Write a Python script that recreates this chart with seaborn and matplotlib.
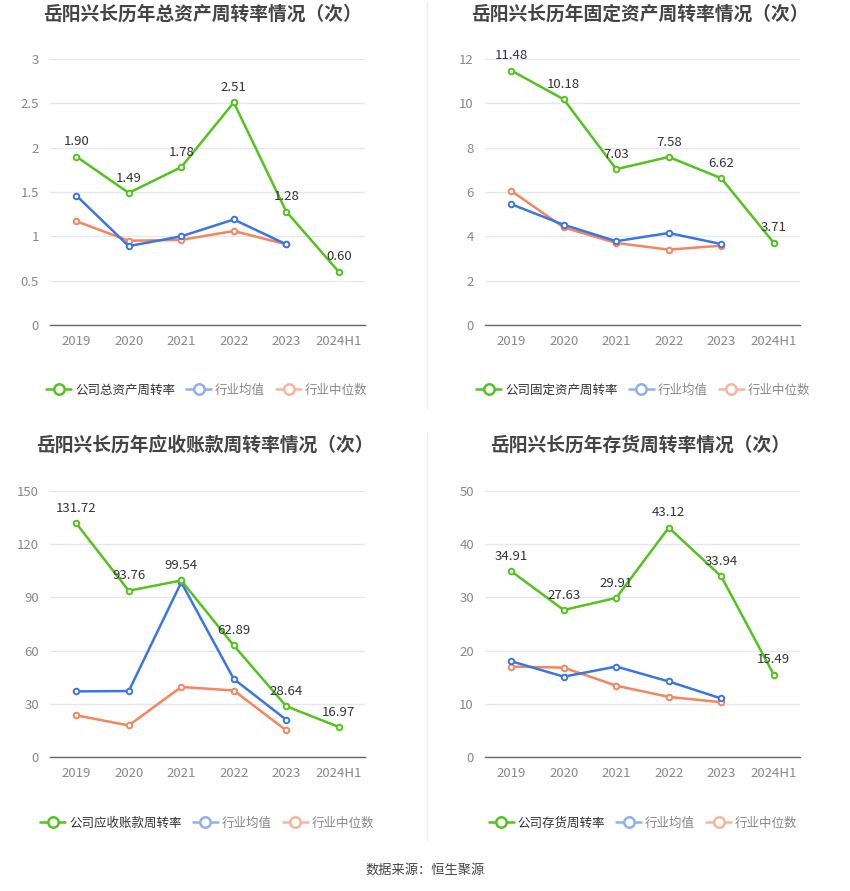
import matplotlib
matplotlib.use("Agg")
import matplotlib.pyplot as plt
from matplotlib.lines import Line2D
import seaborn as sns
import pandas as pd
import numpy as np

years = ["2019", "2020", "2021", "2022", "2023", "2024H1"]

total_company = [1.90, 1.49, 1.78, 2.51, 1.28, 0.60]
total_avg = [1.46, 0.89, 1.00, 1.19, 0.91]
total_median = [1.17, 0.95, 0.96, 1.06, 0.91]

fixed_company = [11.48, 10.18, 7.03, 7.58, 6.62, 3.71]
fixed_avg = [5.45, 4.52, 3.78, 4.15, 3.65]
fixed_median = [6.05, 4.40, 3.70, 3.40, 3.58]

recv_company = [131.72, 93.76, 99.54, 62.89, 28.64, 16.97]
recv_avg = [37.0, 37.2, 98.5, 44.0, 21.0]
recv_median = [23.5, 17.8, 39.5, 37.5, 15.0]

inv_company = [34.91, 27.63, 29.91, 43.12, 33.94, 15.49]
inv_avg = [18.0, 15.1, 17.0, 14.2, 11.0]
inv_median = [17.0, 16.8, 13.4, 11.3, 10.3]

titles = ["岳阳兴长历年总资产周转率情况（次）", "岳阳兴长历年固定资产周转率情况（次）",
          "岳阳兴长历年应收账款周转率情况（次）", "岳阳兴长历年存货周转率情况（次）"]
company_names = ["公司总资产周转率", "公司固定资产周转率", "公司应收账款周转率", "公司存货周转率"]
yticks_list = [[0, 0.5, 1, 1.5, 2, 2.5, 3], [0, 2, 4, 6, 8, 10, 12],
               [0, 30, 60, 90, 120, 150], [0, 10, 20, 30, 40, 50]]
ytick_labels = [["0", "0.5", "1", "1.5", "2", "2.5", "3"], ["0", "2", "4", "6", "8", "10", "12"],
                ["0", "30", "60", "90", "120", "150"], ["0", "10", "20", "30", "40", "50"]]

data = [(total_company, total_avg, total_median), (fixed_company, fixed_avg, fixed_median),
        (recv_company, recv_avg, recv_median), (inv_company, inv_avg, inv_median)]

sns.set_theme(style="white")
plt.rcParams['font.family'] = ['Noto Sans CJK SC', 'DejaVu Sans']

GREEN = "#52c41a"
BLUE = "#3a75e6"
ORANGE = "#f7845a"
GREEN_L = "#52c41a"
BLUE_L = "#8fb0f0"
ORANGE_L = "#f9b59c"

W, H = 850, 891
fig = plt.figure(figsize=(W / 100, H / 100), dpi=100)

# axes boxes in pixels: (left, right, top(y of max tick), bottom(y of 0))
boxes = [(50, 365, 59, 325), (485, 800, 59, 325), (50, 365, 491, 757), (485, 800, 491, 757)]
title_y = [14, 14, 445, 445]
title_x = [202, 640, 205, 640]
legend_y = [390, 390, 823, 823]
legend_x = [207, 643, 207, 643]

for i in range(4):
    l, r, t, b = boxes[i]
    ax = fig.add_axes([l / W, 1 - b / H, (r - l) / W, (b - t) / H])
    comp, avg, med = data[i]
    df_c = pd.DataFrame({"x": np.arange(len(comp)), "y": comp})
    df_a = pd.DataFrame({"x": np.arange(len(avg)), "y": avg})
    df_m = pd.DataFrame({"x": np.arange(len(med)), "y": med})
    mk = dict(marker="o", markersize=4, markerfacecolor="white", markeredgewidth=1.4)
    sns.lineplot(data=df_m, x="x", y="y", ax=ax, color=ORANGE, linewidth=1.8,
                 markeredgecolor=ORANGE, **mk)
    sns.lineplot(data=df_a, x="x", y="y", ax=ax, color=BLUE, linewidth=1.8,
                 markeredgecolor=BLUE, **mk)
    sns.lineplot(data=df_c, x="x", y="y", ax=ax, color=GREEN, linewidth=1.8,
                 markeredgecolor=GREEN, **mk)
    ymax = yticks_list[i][-1]
    for xi, v in enumerate(comp):
        ax.annotate(f"{v:.2f}", (xi, v), xytext=(0, 6), textcoords="offset points",
                    ha="center", va="bottom", fontsize=9.5, color="#333333")
    ax.set_xlim(-0.5, len(years) - 0.5)
    ax.set_ylim(0, ymax)
    ax.set_yticks(yticks_list[i])
    ax.set_yticklabels(ytick_labels[i])
    ax.set_xticks(range(len(years)))
    ax.set_xticklabels(years)
    ax.set_xlabel("")
    ax.set_ylabel("")
    ax.tick_params(axis="y", labelsize=9.5, labelcolor="#888888", length=0, pad=8)
    ax.tick_params(axis="x", labelsize=9.5, labelcolor="#888888", length=4,
                   color="#666666", direction="out", pad=3)
    ax.yaxis.grid(True, color="#e3e7f2", linewidth=0.9)
    ax.xaxis.grid(False)
    for s in ["top", "right", "left"]:
        ax.spines[s].set_visible(False)
    ax.spines["bottom"].set_color("#666666")
    ax.spines["bottom"].set_linewidth(1.0)
    ax.set_axisbelow(True)

    fig.text(title_x[i] / W, 1 - title_y[i] / H, titles[i], ha="center", va="center",
             fontsize=13.5, fontweight="bold", color="#444444")

    handles = [
        Line2D([], [], color=GREEN_L, linewidth=1.8, marker="o", markersize=7.5,
               markerfacecolor="white", markeredgecolor=GREEN_L, markeredgewidth=1.8),
        Line2D([], [], color=BLUE_L, linewidth=1.8, marker="o", markersize=7.5,
               markerfacecolor="white", markeredgecolor=BLUE_L, markeredgewidth=1.8),
        Line2D([], [], color=ORANGE_L, linewidth=1.8, marker="o", markersize=7.5,
               markerfacecolor="white", markeredgecolor=ORANGE_L, markeredgewidth=1.8),
    ]
    leg = fig.legend(handles, [company_names[i], "行业均值", "行业中位数"],
                     loc="center", bbox_to_anchor=(legend_x[i] / W, 1 - legend_y[i] / H),
                     ncol=3, frameon=False, fontsize=9, handlelength=2.0,
                     handletextpad=0.3, columnspacing=0.9)
    for j, txt in enumerate(leg.get_texts()):
        txt.set_color("#333333" if j == 0 else "#888888")

# faint dividers
fig.add_artist(Line2D([427 / W, 427 / W], [1 - 2 / H, 1 - 408 / H], color="#eeeeee", linewidth=1))
fig.add_artist(Line2D([427 / W, 427 / W], [1 - 432 / H, 1 - 840 / H], color="#eeeeee", linewidth=1))

fig.text(425 / W, 1 - 870 / H, "数据来源：恒生聚源", ha="center", va="center",
         fontsize=9.5, color="#444444")

fig.savefig("out.png", dpi=100, facecolor="white")
